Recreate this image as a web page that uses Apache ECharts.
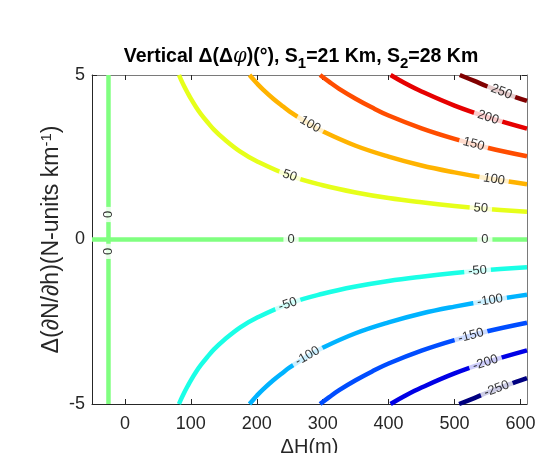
<!DOCTYPE html>
<html>
<head>
<meta charset="utf-8">
<script src="https://cdn.jsdelivr.net/npm/echarts@6/dist/echarts.min.js"></script>
<style>
html,body{margin:0;padding:0;background:#fff;}
#main{width:540px;height:453px;}
</style>
</head>
<body>
<div id="main"></div>
<script>
// Contour levels and their colours (jet colormap)
const levels = [-250, -200, -150, -100, -50, 0, 50, 100, 150, 200, 250];
const levelColors = ['#000080', '#0000e6', '#004dff', '#00b3ff', '#1affe6', '#80ff80', '#e6ff1a', '#ffb300', '#ff4d00', '#e60000', '#800000'];

// tick values
const xTicks = [0, 100, 200, 300, 400, 500, 600];
const yTicks = [-5, 0, 5];

// Contour lines: [ΔH (m), Δ(∂N/∂h)]
const cP50  = [[82,5],[85,4.86],[90,4.65],[95,4.46],[100,4.28],[108,4.02],[115,3.82],[125,3.57],[135,3.34],[150,3.06],[175,2.67],[200,2.38],[250,1.94],[300,1.65],[350,1.43],[400,1.26],[450,1.13],[500,1.02],[550,0.93],[610,0.84]];
const cP100 = [[189,5],[195,4.86],[200,4.75],[210,4.55],[225,4.28],[240,4.04],[250,3.89],[275,3.57],[300,3.29],[350,2.85],[400,2.52],[450,2.25],[500,2.04],[550,1.86],[610,1.68]];
const cP150 = [[296,5],[310,4.79],[325,4.58],[350,4.28],[375,4.01],[400,3.77],[450,3.38],[500,3.06],[550,2.79],[610,2.53]];
const cP200 = [[403,5],[425,4.75],[450,4.50],[500,4.07],[550,3.72],[610,3.37]];
const cP250 = [[508,5],[530,4.82],[550,4.65],[580,4.42],[610,4.21]];
const cN50  = [[82,-5],[85,-4.86],[90,-4.65],[95,-4.46],[100,-4.28],[108,-4.02],[115,-3.82],[125,-3.57],[135,-3.34],[150,-3.06],[175,-2.67],[200,-2.38],[250,-1.94],[300,-1.65],[350,-1.43],[400,-1.26],[450,-1.13],[500,-1.02],[550,-0.93],[610,-0.84]];
const cN100 = [[189,-5],[195,-4.86],[200,-4.75],[210,-4.55],[225,-4.28],[240,-4.04],[250,-3.89],[275,-3.57],[300,-3.29],[350,-2.85],[400,-2.52],[450,-2.25],[500,-2.04],[550,-1.86],[610,-1.68]];
const cN150 = [[296,-5],[310,-4.79],[325,-4.58],[350,-4.28],[375,-4.01],[400,-3.77],[450,-3.38],[500,-3.06],[550,-2.79],[610,-2.53]];
const cN200 = [[403,-5],[425,-4.75],[450,-4.50],[500,-4.07],[550,-3.72],[610,-3.37]];
const cN250 = [[507,-5],[530,-4.82],[550,-4.65],[580,-4.42],[610,-4.21]];
const cZeroH = [[-50,0],[610,0]];
const cZeroV = [[-25,-5],[-25,5]];

// Inline contour labels
const labelText  = ['0','0','0','0','50','50','100','100','150','200','250','-50','-50','-100','-100','-150','-200','-250'];
const labelPos   = [[252,0],[546,0],[-25,0.76],[-25,-0.36],[250,1.94],[540,0.95],[281,3.5],[560,1.83],[529,2.9],[551,3.71],[571,4.49],[247,-1.97],[535,-0.95],[277,-3.54],[554,-1.85],[525,-2.92],[547,-3.74],[564,-4.54]];
const labelAngle = [0,0,90,90,-19,-5,-30,-9,-15,-18,-21,19,5,30,9,15,18,21];

const contourSets = [
  {level: -250, data: cN250}, {level: -200, data: cN200}, {level: -150, data: cN150},
  {level: -100, data: cN100}, {level: -50, data: cN50},
  {level: 0, data: cZeroH}, {level: 0, data: cZeroV},
  {level: 50, data: cP50}, {level: 100, data: cP100}, {level: 150, data: cP150},
  {level: 200, data: cP200}, {level: 250, data: cP250}
];

const FONT = 'Liberation Sans, Arial, Helvetica, sans-serif';
const AX = '#262626';

const series = contourSets.map(s => ({
  type: 'line',
  data: s.data,
  showSymbol: false,
  symbol: 'none',
  smooth: 0.4,
  clip: true,
  lineStyle: {width: 4.5, color: levelColors[levels.indexOf(s.level)], cap: 'butt', join: 'round'},
  z: 2,
  silent: true
}));

series.push({
  type: 'scatter',
  symbolSize: 0,
  silent: true,
  z: 5,
  data: labelPos.map((p, i) => ({
    value: p,
    name: labelText[i],
    label: {rotate: labelAngle[i]}
  })),
  label: {
    show: true,
    position: 'inside',
    formatter: p => p.name,
    fontFamily: FONT,
    fontSize: 13,
    color: '#000',
    backgroundColor: '#fff',
    padding: [1, 4, 0, 4]
  }
});

const chart = echarts.init(document.getElementById('main'), null, {renderer: 'canvas'});
chart.setOption({
  animation: false,
  backgroundColor: '#fff',
  grid: {left: 92, right: 13, top: 75, bottom: 49, containLabel: false, outerBoundsMode: 'none'},
  xAxis: [{
    type: 'value', min: -50, max: 610, position: 'bottom',
    axisLine: {show: true, onZero: false, lineStyle: {color: AX, width: 1}},
    axisTick: {show: true, inside: true, length: 5, customValues: xTicks, lineStyle: {color: AX}},
    axisLabel: {customValues: xTicks, fontFamily: FONT, fontSize: 18, color: AX, margin: 11},
    splitLine: {show: false},
    name: 'ΔH(m)', nameLocation: 'middle', nameGap: 33, nameMoveOverlap: false,
    nameTextStyle: {fontFamily: FONT, fontSize: 20, color: AX}
  }, {
    type: 'value', min: -50, max: 610, position: 'top',
    axisLine: {show: true, onZero: false, lineStyle: {color: '#7a7a7a', width: 1}},
    axisTick: {show: true, inside: true, length: 5, customValues: xTicks, lineStyle: {color: AX}},
    axisLabel: {show: false},
    splitLine: {show: false}
  }],
  yAxis: [{
    type: 'value', min: -5, max: 5, interval: 5, position: 'left',
    axisLine: {show: true, onZero: false, lineStyle: {color: AX, width: 1}},
    axisTick: {show: true, inside: true, length: 5, lineStyle: {color: AX}},
    axisLabel: {fontFamily: FONT, fontSize: 18, color: AX, margin: 7},
    splitLine: {show: false},
    name: '{a|Δ(∂N/∂h)(N-units km}{s|-1}{a|)}', nameLocation: 'middle', nameGap: 27, nameMoveOverlap: false,
    nameTextStyle: {
      fontFamily: FONT, fontSize: 23, color: AX,
      rich: {
        a: {fontFamily: FONT, fontSize: 23, color: AX, lineHeight: 26},
        s: {fontFamily: FONT, fontSize: 15, color: AX, lineHeight: 15, verticalAlign: 'top'}
      }
    }
  }, {
    type: 'value', min: -5, max: 5, interval: 5, position: 'right',
    axisLine: {show: true, onZero: false, lineStyle: {color: '#7a7a7a', width: 1}},
    axisTick: {show: true, inside: true, length: 5, lineStyle: {color: AX}},
    axisLabel: {show: false},
    splitLine: {show: false}
  }],
  graphic: [{
    type: 'text',
    x: 301, y: 57,
    style: {
      text: '{b|Vertical Δ(Δ}{i|φ}{b|)(°), S}{s|1}{b|=21 Km, S}{s|2}{b|=28 Km}',
      align: 'center', verticalAlign: 'middle',
      fill: '#000',
      rich: {
        b: {fontFamily: FONT, fontSize: 19.5, fontWeight: 'bold', fill: '#000', lineHeight: 28},
        i: {fontFamily: 'DejaVu Serif, serif', fontSize: 19.5, fontStyle: 'italic', fill: '#000', lineHeight: 28},
        s: {fontFamily: FONT, fontSize: 15, fontWeight: 'bold', fill: '#000', lineHeight: 15, verticalAlign: 'bottom'}
      }
    }
  }],
  series: series
});
</script>
</body>
</html>
